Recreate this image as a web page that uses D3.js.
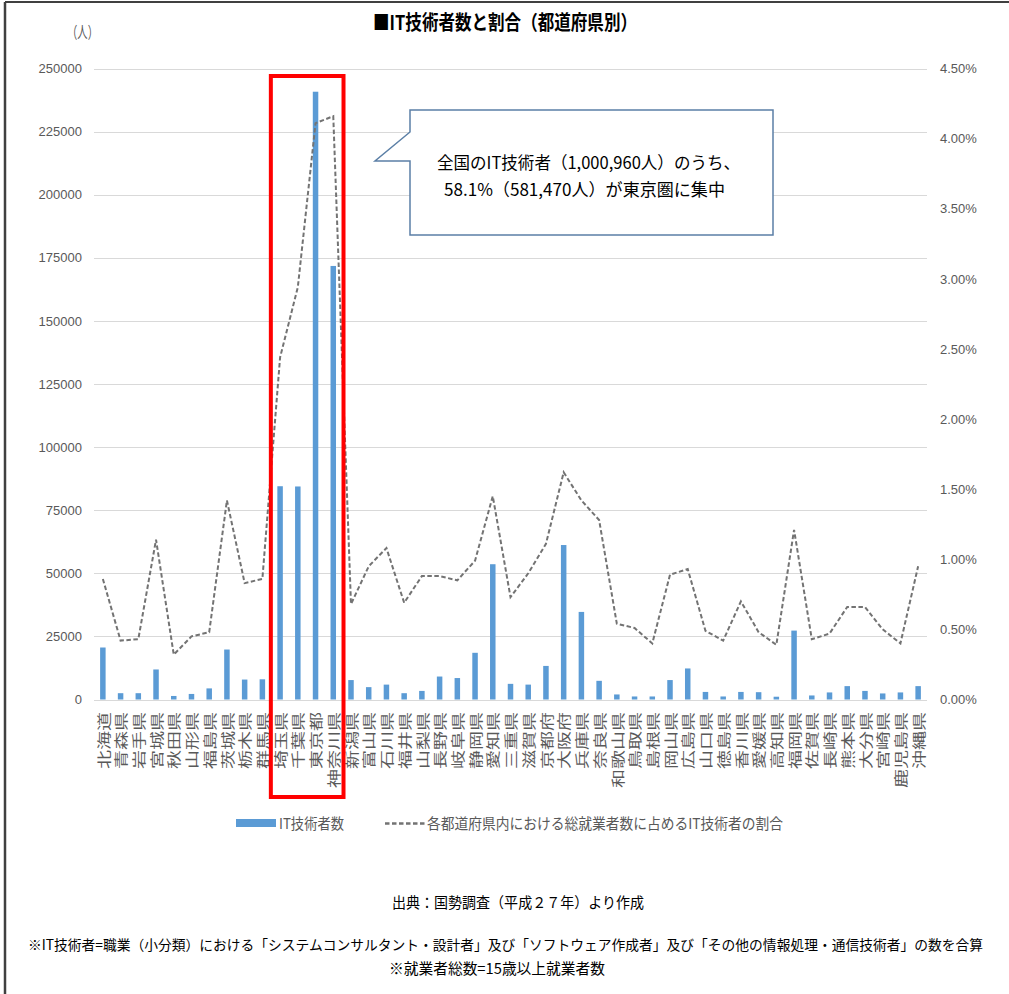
<!DOCTYPE html>
<html lang="ja">
<head>
<meta charset="utf-8">
<script src="https://cdn.jsdelivr.net/npm/d3@7"></script>
<style>
  html, body { margin: 0; padding: 0; background: #fff; }
  svg { display: block; }
  text { font-family: "Noto Sans CJK JP", "Noto Sans", sans-serif; }
  .tick text { font-family: "Liberation Sans", Arial, sans-serif; }
</style>
</head>
<body>
<svg id="chart" width="1009" height="994"></svg>
<script>
// Prefectures in standard order
const categories = ["北海道","青森県","岩手県","宮城県","秋田県","山形県","福島県","茨城県","栃木県","群馬県",
  "埼玉県","千葉県","東京都","神奈川県","新潟県","富山県","石川県","福井県","山梨県","長野県",
  "岐阜県","静岡県","愛知県","三重県","滋賀県","京都府","大阪府","兵庫県","奈良県","和歌山県",
  "鳥取県","島根県","岡山県","広島県","山口県","徳島県","香川県","愛媛県","高知県","福岡県",
  "佐賀県","長崎県","熊本県","大分県","宮崎県","鹿児島県","沖縄県"];

// IT engineers per prefecture (people)
const itWorkers = [20600,2500,2500,11900,1400,2200,4400,19800,7900,8000,
  84500,84400,240800,171770,7700,4900,5900,2500,3400,9100,
  8500,18500,53600,6200,5900,13300,61200,34700,7400,2000,
  1200,1200,7700,12300,3000,1200,3000,2900,1100,27300,
  1600,2800,5300,3400,2400,2800,5300];

// Share of IT engineers among all employed persons in each prefecture (%)
const itShare = [0.86,0.42,0.43,1.14,0.32,0.45,0.48,1.42,0.83,0.86,
  2.44,2.94,4.11,4.16,0.68,0.95,1.08,0.69,0.88,0.88,
  0.85,0.99,1.45,0.73,0.90,1.11,1.62,1.42,1.28,0.54,
  0.51,0.40,0.89,0.93,0.49,0.42,0.70,0.48,0.39,1.21,
  0.43,0.47,0.66,0.66,0.50,0.40,0.95];

const leftTicks = [0,25000,50000,75000,100000,125000,150000,175000,200000,225000,250000];
const rightTicks = [0,0.5,1,1.5,2,2.5,3,3.5,4,4.5];

// Tokyo metropolitan area (highlighted)
const tokyoArea = ["埼玉県","千葉県","東京都","神奈川県"];

const svg = d3.select("#chart");
const W = 1009, H = 994;
const plot = { left: 94, right: 927, top: 68.5, bottom: 699.5 };

svg.append("rect").attr("width", W).attr("height", H).attr("fill", "#fff");

// outer frame edges
svg.append("line").attr("x1", 5).attr("x2", W).attr("y1", 2).attr("y2", 2)
  .attr("stroke", "#404040").attr("stroke-width", 2);
svg.append("line").attr("x1", 5).attr("x2", 5).attr("y1", 2).attr("y2", H)
  .attr("stroke", "#404040").attr("stroke-width", 2.5);

const pi = 0.69;
const x = d3.scaleBand().domain(categories).range([plot.left, plot.right])
  .paddingInner(pi).paddingOuter(pi / 2);
const yL = d3.scaleLinear().domain([0, 250000]).range([plot.bottom, plot.top]);
const yR = d3.scaleLinear().domain([0, 4.5]).range([plot.bottom, plot.top]);

// gridlines
svg.append("g").selectAll("line").data(leftTicks).join("line")
  .attr("x1", plot.left).attr("x2", plot.right)
  .attr("y1", d => Math.round(yL(d)) + 0.5).attr("y2", d => Math.round(yL(d)) + 0.5)
  .attr("stroke", "#d9d9d9").attr("stroke-width", 1.2);

// left axis
const axL = svg.append("g").attr("transform", `translate(${plot.left},0)`)
  .call(d3.axisLeft(yL).tickValues(leftTicks).tickSize(0).tickPadding(12).tickFormat(d3.format("d")));
axL.select(".domain").remove();
axL.selectAll("text").attr("fill", "#595959").attr("font-size", 13);

// right axis
const axR = svg.append("g").attr("transform", `translate(${plot.right},0)`)
  .call(d3.axisRight(yR).tickValues(rightTicks).tickSize(0).tickPadding(13).tickFormat(d => d.toFixed(2) + "%"));
axR.select(".domain").remove();
axR.selectAll("text").attr("fill", "#595959").attr("font-size", 13);

// bars
svg.append("g").selectAll("rect").data(categories).join("rect")
  .attr("x", (d) => x(d))
  .attr("width", x.bandwidth())
  .attr("y", (d, i) => yL(itWorkers[i]))
  .attr("height", (d, i) => plot.bottom - yL(itWorkers[i]))
  .attr("fill", "#5b9bd5");

// share line
const line = d3.line()
  .x((d, i) => x(categories[i]) + x.bandwidth() / 2)
  .y(d => yR(d));
svg.append("path").datum(itShare).attr("d", line)
  .attr("fill", "none").attr("stroke", "#737373").attr("stroke-width", 2)
  .attr("stroke-dasharray", "4.5,2.5");

// category labels (rotated)
const labelTop = 712;
svg.append("g").selectAll("text").data(categories).join("text")
  .attr("transform", d => `translate(${x(d) + x.bandwidth() / 2},${labelTop}) rotate(-90) scale(1,0.7)`)
  .attr("text-anchor", "end")
  .attr("dominant-baseline", "central")
  .attr("font-size", 19)
  .attr("fill", "#595959")
  .text(d => d);

// highlight box around Tokyo area
const hx0 = x(tokyoArea[0]) - 6.5;
const hx1 = x(tokyoArea[tokyoArea.length - 1]) + x.bandwidth() + 7.5;
svg.append("rect")
  .attr("x", hx0).attr("y", 76)
  .attr("width", hx1 - hx0).attr("height", 797 - 76)
  .attr("fill", "none").attr("stroke", "#ff0000").attr("stroke-width", 4);

// title and unit
svg.append("text").attr("x", 373).attr("y", 30)
  .attr("font-size", 20).attr("font-weight", "bold").attr("fill", "#000")
  .attr("textLength", 264).attr("lengthAdjust", "spacingAndGlyphs")
  .text("■IT技術者数と割合（都道府県別）");
svg.append("text").attr("x", 67).attr("y", 38)
  .attr("font-size", 16).attr("fill", "#595959")
  .attr("textLength", 31).attr("lengthAdjust", "spacingAndGlyphs")
  .text("（人）");

// callout
const cb = { x0: 410, x1: 773, y0: 110, y1: 235 };
svg.append("path")
  .attr("d", `M${cb.x0},${cb.y0} L${cb.x1},${cb.y0} L${cb.x1},${cb.y1} L${cb.x0},${cb.y1} L${cb.x0},161 L375,161 L${cb.x0},132 Z`)
  .attr("fill", "#fff").attr("stroke", "#5b7fa6").attr("stroke-width", 1.5);
svg.append("text").attr("x", 437).attr("y", 169)
  .attr("font-size", 17).attr("fill", "#000")
  .attr("textLength", 303).attr("lengthAdjust", "spacingAndGlyphs")
  .text("全国のIT技術者（1,000,960人）のうち、");
svg.append("text").attr("x", 444).attr("y", 196)
  .attr("font-size", 17).attr("fill", "#000")
  .attr("textLength", 281).attr("lengthAdjust", "spacingAndGlyphs")
  .text("58.1%（581,470人）が東京圏に集中");

// legend
const lg = svg.append("g");
lg.append("rect").attr("x", 236).attr("y", 819).attr("width", 40).attr("height", 8).attr("fill", "#5b9bd5");
lg.append("text").attr("x", 279).attr("y", 829)
  .attr("font-size", 15).attr("fill", "#595959")
  .attr("textLength", 65).attr("lengthAdjust", "spacingAndGlyphs")
  .text("IT技術者数");
lg.append("line").attr("x1", 385).attr("x2", 425).attr("y1", 823.5).attr("y2", 823.5)
  .attr("stroke", "#737373").attr("stroke-width", 2.5).attr("stroke-dasharray", "4.5,2.5");
lg.append("text").attr("x", 427).attr("y", 829)
  .attr("font-size", 15).attr("fill", "#595959")
  .attr("textLength", 356).attr("lengthAdjust", "spacingAndGlyphs")
  .text("各都道府県内における総就業者数に占めるIT技術者の割合");

// notes
svg.append("text").attr("x", 392).attr("y", 908)
  .attr("font-size", 15).attr("fill", "#000")
  .attr("textLength", 252).attr("lengthAdjust", "spacingAndGlyphs")
  .text("出典：国勢調査（平成２７年）より作成");
svg.append("text").attr("x", 28).attr("y", 950)
  .attr("font-size", 14).attr("fill", "#000")
  .attr("textLength", 955).attr("lengthAdjust", "spacingAndGlyphs")
  .text("※IT技術者=職業（小分類）における「システムコンサルタント・設計者」及び「ソフトウェア作成者」及び「その他の情報処理・通信技術者」の数を合算");
svg.append("text").attr("x", 389).attr("y", 974)
  .attr("font-size", 15).attr("fill", "#000")
  .attr("textLength", 216).attr("lengthAdjust", "spacingAndGlyphs")
  .text("※就業者総数=15歳以上就業者数");
</script>
</body>
</html>
